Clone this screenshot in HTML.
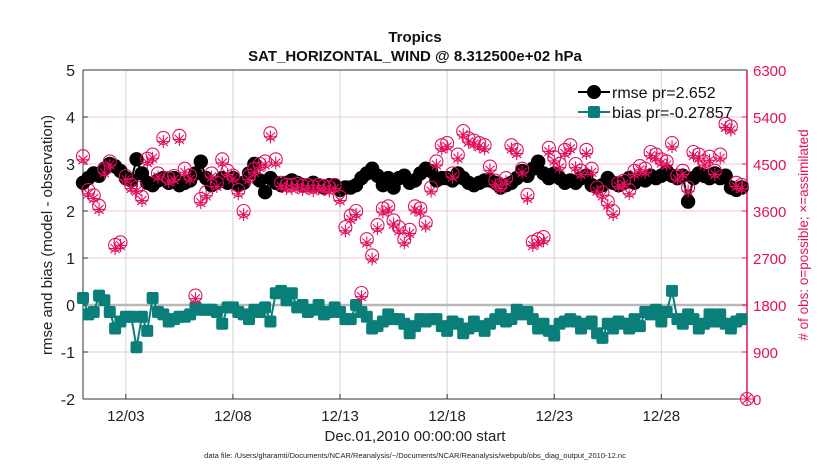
<!DOCTYPE html>
<html><head><meta charset="utf-8"><style>
body{margin:0;background:#fff;}
svg{font-family:"Liberation Sans",sans-serif;display:block}
</style></head><body>
<svg id="chart" width="830" height="470" viewBox="0 0 830 470">
<rect x="0" y="0" width="830" height="470" fill="#fff"/>
<text x="415" y="42" text-anchor="middle" font-size="15" font-weight="bold" fill="#111">Tropics</text>
<text x="415" y="61" text-anchor="middle" font-size="15" font-weight="bold" fill="#111">SAT_HORIZONTAL_WIND @ 8.312500e+02 hPa</text>
<g id="grid"></g>
<g id="axes"></g>
<g id="series"></g>
<text x="415" y="441" text-anchor="middle" font-size="15" fill="#222">Dec.01,2010 00:00:00 start</text>
<text x="415" y="458" text-anchor="middle" font-size="7.5" fill="#222">data file: /Users/gharamti/Documents/NCAR/Reanalysis/~/Documents/NCAR/Reanalysis/webpub/obs_diag_output_2010-12.nc</text>
<text transform="translate(52,235) rotate(-90)" text-anchor="middle" font-size="15" fill="#222">rmse and bias (model - observation)</text>
<text transform="translate(808,235) rotate(-90)" text-anchor="middle" font-size="13.5" fill="#e0115f"># of obs: o=possible; ×=assimilated</text>
<g id="legend"></g>
</svg>
<script>
const xTickLabels=["12/03","12/08","12/13","12/18","12/23","12/28"];
const xTickDays=[2,7,12,17,22,27];
const yTicks=[-2,-1,0,1,2,3,4,5];
const y2Ticks=[0,900,1800,2700,3600,4500,5400,6300];
const rmse=[2.6,2.7,2.8,2.75,2.9,3.0,2.95,2.85,2.7,2.65,3.1,2.8,2.6,2.55,2.65,2.7,2.6,2.7,2.55,2.6,2.65,2.8,3.05,2.7,2.55,2.6,2.7,2.6,2.7,2.55,2.6,2.8,3.0,2.65,2.4,2.7,2.6,2.55,2.6,2.65,2.6,2.55,2.55,2.6,2.55,2.5,2.55,2.55,2.45,2.5,2.5,2.55,2.7,2.8,2.9,2.75,2.55,2.7,2.5,2.7,2.75,2.6,2.65,2.8,2.9,2.85,2.65,2.7,2.7,2.65,2.8,2.7,2.6,2.55,2.6,2.65,2.65,2.6,2.5,2.55,2.6,2.7,2.85,2.75,2.9,3.05,2.8,2.7,2.8,2.7,2.6,2.65,2.6,2.7,2.75,2.55,2.5,2.55,2.7,2.6,2.55,2.6,2.7,2.6,2.7,2.65,2.75,2.7,2.75,2.85,2.75,2.7,2.75,2.2,2.7,2.8,2.75,2.7,2.8,2.7,2.75,2.5,2.45,2.5];
const bias=[0.15,-0.2,-0.15,0.2,0.1,-0.15,-0.5,-0.35,-0.25,-0.25,-0.9,-0.25,-0.55,0.15,-0.15,-0.2,-0.35,-0.3,-0.25,-0.25,-0.2,-0.05,-0.1,-0.1,-0.1,-0.15,-0.4,-0.05,-0.05,-0.15,-0.2,-0.3,-0.1,-0.15,-0.05,-0.35,0.25,0.3,0.1,0.25,-0.05,0.0,-0.15,-0.1,0.0,-0.2,-0.15,-0.05,-0.15,-0.3,-0.3,0.0,-0.15,-0.25,-0.5,-0.45,-0.35,-0.2,-0.3,-0.3,-0.4,-0.6,-0.45,-0.3,-0.35,-0.3,-0.3,-0.45,-0.55,-0.35,-0.4,-0.6,-0.5,-0.35,-0.45,-0.55,-0.4,-0.3,-0.2,-0.35,-0.3,-0.1,-0.2,-0.15,-0.3,-0.5,-0.4,-0.55,-0.65,-0.4,-0.35,-0.3,-0.35,-0.5,-0.4,-0.35,-0.6,-0.7,-0.4,-0.5,-0.35,-0.4,-0.5,-0.3,-0.45,-0.15,-0.2,-0.1,-0.35,-0.15,0.3,-0.3,-0.4,-0.2,-0.3,-0.5,-0.4,-0.2,-0.35,-0.2,-0.4,-0.5,-0.35,-0.3];
const obsPossible=[4650,4000,3900,3700,4400,4550,2950,3000,4270,4100,4050,3870,4600,4680,4320,5000,4230,4270,5040,4410,4280,1980,3830,3960,4320,4140,4590,4370,4280,4000,3600,4270,4410,4500,4550,5090,4590,4140,4100,4100,4120,4080,4100,4060,4100,4080,4050,4100,3870,3290,3510,3600,2030,3060,2750,3330,3650,3690,3420,3290,3060,3240,3690,3650,3380,4050,4550,4860,4900,4320,4680,5130,4990,4950,4900,4860,4450,4180,4100,4230,4860,4770,4410,3910,3010,3060,3100,4810,4630,4500,4770,4860,4500,4370,4770,4410,4050,3960,3780,3600,4140,4180,4000,4370,4460,4410,4730,4680,4590,4550,4900,4280,4370,4050,4730,4680,4550,4640,4370,4680,5270,5220,4140,4100,0];
const obsAssim=[4580,3930,3840,3630,4330,4480,2880,2940,4200,4030,3980,3800,4530,4610,4250,4930,4160,4200,4970,4340,4210,1920,3760,3890,4250,4070,4520,4300,4210,3930,3530,4200,4340,4430,4480,5020,4520,4070,4030,4030,4050,4010,4030,3990,4030,4010,3980,4030,3800,3220,3440,3530,1960,2990,2680,3260,3580,3620,3350,3220,2990,3170,3620,3580,3310,3980,4480,4790,4830,4250,4610,5060,4920,4880,4830,4790,4380,4110,4030,4160,4790,4700,4340,3840,2940,2990,3030,4740,4560,4430,4700,4790,4430,4300,4700,4340,3980,3890,3710,3530,4070,4110,3930,4300,4390,4340,4660,4610,4520,4480,4830,4210,4300,3980,4660,4610,4480,4570,4300,4610,5200,5150,4070,4030,0];

const NS="http://www.w3.org/2000/svg";
const L=83,R=747,T=70,B=399;
const xS=d=>L+(d/31)*(R-L);
const yS=v=>B-(v+2)/7*(B-T);
const y2S=c=>B-c/6300*(B-T);
const dayOf=i=>i*0.25;
function mk(tag,attrs,parent){const e=document.createElementNS(NS,tag);for(const k in attrs)e.setAttribute(k,attrs[k]);parent.appendChild(e);return e;}
const grid=document.getElementById('grid'),axes=document.getElementById('axes'),ser=document.getElementById('series'),leg=document.getElementById('legend');
mk('rect',{x:L,y:T,width:R-L,height:B-T,fill:'#fff'},grid);
yTicks.forEach(v=>{const y=yS(v);
 const g=mk('line',{x1:L,x2:R,y1:y,y2:y,stroke:'#f2c6d6','stroke-width':1},grid);
 
 
 mk('line',{x1:L,x2:L+5,y1:y,y2:y,stroke:'#333'},axes);
 const lb=mk('text',{x:L-8,y:y+6,'text-anchor':'end','font-size':16,fill:'#222'},axes);lb.textContent=v;
 
 
});
y2Ticks.forEach(c=>{const y=y2S(c);
 mk('line',{x1:R-5,x2:R,y1:y,y2:y,stroke:'#e0115f'},axes);
 const lb=mk('text',{x:R+6,y:y+6,'font-size':15,fill:'#e0115f'},axes);lb.textContent=c;
 
 
});
xTickDays.forEach((d,i)=>{const x=xS(d);
 const g=mk('line',{x1:x,x2:x,y1:T,y2:B,stroke:'#d4d4d4','stroke-width':1},grid);
 
 
 mk('line',{x1:x,x2:x,y1:B,y2:B-5,stroke:'#333'},axes);
 const lb=mk('text',{x:x,y:B+22,'text-anchor':'middle','font-size':15,fill:'#222'},axes);lb.textContent=xTickLabels[i];
 
 
});
const zl=mk('line',{x1:L,x2:R,y1:yS(0),y2:yS(0),stroke:'#b8b8b8','stroke-width':2.5},grid);


mk('line',{x1:L,x2:R,y1:T,y2:T,stroke:'#333'},axes);
mk('line',{x1:L,x2:R,y1:B,y2:B,stroke:'#333'},axes);
mk('line',{x1:L,x2:L,y1:T,y2:B,stroke:'#333'},axes);
mk('line',{x1:R,x2:R,y1:T,y2:B,stroke:'#e0115f','stroke-width':1.5},axes);

const rp=mk('polyline',{points:rmse.map((v,i)=>xS(dayOf(i))+','+yS(v)).join(' '),fill:'none',stroke:'#000','stroke-width':2},ser);


rmse.forEach((v,i)=>{const c=mk('circle',{cx:xS(dayOf(i)),cy:yS(v),r:7.2,fill:'#000'},ser);
 
 });
const bp=mk('polyline',{points:bias.map((v,i)=>xS(dayOf(i))+','+yS(v)).join(' '),fill:'none',stroke:'#0a7f7a','stroke-width':2},ser);


bias.forEach((v,i)=>{const s=mk('rect',{x:xS(dayOf(i))-6,y:yS(v)-6,width:12,height:12,rx:2,fill:'#0a7f7a'},ser);
 
 });
obsPossible.forEach((c,i)=>{const o=mk('circle',{cx:xS(dayOf(i)),cy:y2S(c),r:6.5,fill:'none',stroke:'#e0115f','stroke-width':1.1},ser);
 
 });
obsAssim.forEach((c,i)=>{const x=xS(dayOf(i)),y=y2S(c),r=6.5;
 const g=mk('path',{d:`M${x-r},${y}H${x+r}M${x},${y-r}V${y+r}M${x-4.5},${y-4.5}L${x+4.5},${y+4.5}M${x-4.5},${y+4.5}L${x+4.5},${y-4.5}`,stroke:'#e0115f','stroke-width':1.1,fill:'none'},ser);
 
 });
mk('line',{x1:578,x2:610,y1:92,y2:92,stroke:'#000','stroke-width':2},leg);
mk('circle',{cx:594,cy:92,r:7,fill:'#000'},leg);
const t1=mk('text',{x:612,y:98,'font-size':16,fill:'#111'},leg);t1.textContent='rmse pr=2.652';


mk('line',{x1:578,x2:610,y1:112,y2:112,stroke:'#0a7f7a','stroke-width':2},leg);
mk('rect',{x:588,y:106,width:12,height:12,rx:2,fill:'#0a7f7a'},leg);
const t2=mk('text',{x:612,y:118,'font-size':16,fill:'#111'},leg);t2.textContent='bias pr=-0.27857';


</script>
</body></html>
